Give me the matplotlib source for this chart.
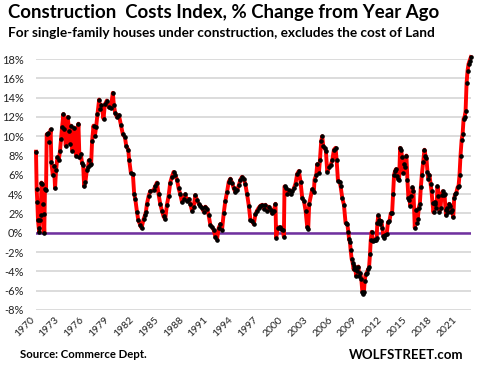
import numpy as np
import matplotlib.pyplot as plt

# Construction costs index, % change from year ago
years = np.array([
    1970.00, 1970.08, 1970.16, 1970.24, 1970.33, 1970.41, 1970.50, 1970.58,
    1970.66, 1970.75, 1970.83, 1970.91, 1971.00, 1971.08, 1971.21, 1971.29,
    1971.49, 1971.57, 1971.77, 1971.85, 1972.02, 1972.18, 1972.30, 1972.42,
    1972.58, 1972.74, 1972.90, 1973.02, 1973.15, 1973.31, 1973.43, 1973.59,
    1973.83, 1973.99, 1974.11, 1974.23, 1974.40, 1974.60, 1974.84, 1975.12,
    1975.24, 1975.40, 1975.56, 1975.69, 1975.81, 1975.97, 1976.13, 1976.29,
    1976.37, 1976.53, 1976.65, 1976.77, 1976.94, 1977.10, 1977.26, 1977.42,
    1977.62, 1977.74, 1977.90, 1978.15, 1978.31, 1978.55, 1978.79, 1979.03,
    1979.27, 1979.40, 1979.56, 1979.76, 1980.00, 1980.24, 1980.48, 1980.73,
    1980.89, 1981.13, 1981.25, 1981.45, 1981.69, 1981.85, 1981.98, 1982.18,
    1982.34, 1982.58, 1982.74, 1982.98, 1983.15, 1983.27, 1983.39, 1983.59,
    1983.79, 1984.18, 1984.38, 1984.59, 1984.79, 1984.99, 1985.19, 1985.39,
    1985.59, 1985.80, 1986.00, 1986.20, 1986.40, 1986.60, 1986.80, 1987.01,
    1987.21, 1987.41, 1987.61, 1987.81, 1988.01, 1988.22, 1988.42, 1988.62,
    1988.82, 1989.02, 1989.22, 1989.43, 1989.63, 1989.83, 1990.03, 1990.23,
    1990.43, 1990.63, 1990.84, 1991.04, 1991.24, 1991.44, 1991.64, 1991.84,
    1992.05, 1992.25, 1992.45, 1992.65, 1992.85, 1993.05, 1993.26, 1993.46,
    1993.66, 1993.86, 1994.06, 1994.26, 1994.47, 1994.67, 1994.87, 1995.07,
    1995.27, 1995.47, 1995.68, 1995.88, 1996.08, 1996.28, 1996.48, 1996.68,
    1996.89, 1997.09, 1997.29, 1997.49, 1997.69, 1997.89, 1998.10, 1998.30,
    1998.50, 1998.70, 1998.90, 1998.98, 1999.18, 1999.39, 1999.59, 1999.79,
    1999.91, 1999.99, 2000.11, 2000.31, 2000.51, 2000.72, 2000.92, 2001.12,
    2001.32, 2001.52, 2001.72, 2001.92, 2002.13, 2002.33, 2002.53, 2002.73,
    2002.85, 2002.97, 2003.33, 2003.53, 2003.61, 2003.82, 2003.94, 2004.14,
    2004.26, 2004.42, 2004.54, 2004.66, 2004.82, 2004.98, 2005.15, 2005.35,
    2005.55, 2005.75, 2005.95, 2006.15, 2006.28, 2006.44, 2006.64, 2006.76,
    2006.96, 2007.16, 2007.36, 2007.57, 2007.69, 2007.77, 2007.89, 2007.97,
    2008.09, 2008.21, 2008.33, 2008.41, 2008.53, 2008.65, 2008.78, 2008.90,
    2009.02, 2009.14, 2009.26, 2009.38, 2009.50, 2009.58, 2009.66, 2009.78,
    2009.90, 2010.07, 2010.19, 2010.31, 2010.39, 2010.51, 2010.63, 2010.79,
    2010.91, 2011.03, 2011.11, 2011.19, 2011.32, 2011.44, 2011.56, 2011.68,
    2011.80, 2011.92, 2012.04, 2012.16, 2012.32, 2012.48, 2012.65, 2012.81,
    2012.97, 2013.09, 2013.21, 2013.33, 2013.45, 2013.57, 2013.69, 2013.82,
    2013.94, 2014.06, 2014.18, 2014.30, 2014.42, 2014.54, 2014.70, 2014.82,
    2014.94, 2015.07, 2015.19, 2015.31, 2015.43, 2015.55, 2015.71, 2015.83,
    2015.95, 2016.07, 2016.19, 2016.32, 2016.44, 2016.56, 2016.72, 2016.88,
    2017.00, 2017.12, 2017.24, 2017.36, 2017.48, 2017.61, 2017.73, 2017.85,
    2017.97, 2018.09, 2018.21, 2018.33, 2018.45, 2018.57, 2018.69, 2018.82,
    2018.94, 2019.06, 2019.18, 2019.30, 2019.42, 2019.50, 2019.62, 2019.74,
    2019.86, 2019.99, 2020.11, 2020.23, 2020.35, 2020.47, 2020.59, 2020.71,
    2020.87, 2020.99, 2021.11, 2021.23, 2021.36, 2021.48, 2021.60, 2021.72,
    2021.84, 2021.96, 2022.08, 2022.20, 2022.32, 2022.48,
])
pct = np.array([
    8.4, 4.5, 3.2, 1.3, 0.5, 0.1, 1.3, 1.8,
    5.2, 5.1, 3.0, 1.9, 0.0, 4.5, 4.4, 10.2,
    10.3, 9.4, 10.7, 7.3, 6.0, 6.9, 4.6, 6.5,
    7.8, 7.5, 8.5, 9.7, 11.0, 12.3, 10.8, 9.0,
    12.0, 10.5, 9.2, 11.1, 8.5, 10.9, 8.0, 11.3,
    7.8, 8.2, 7.2, 7.0, 4.8, 5.3, 6.5, 6.8,
    7.5, 7.0, 7.1, 9.5, 11.1, 10.0, 11.0, 12.3,
    13.8, 12.8, 13.2, 11.8, 13.3, 13.7, 13.0, 12.9,
    14.5, 13.2, 12.4, 12.0, 12.2, 11.2, 10.2, 9.9,
    9.0, 8.6, 7.5, 6.2, 6.1, 4.0, 3.5, 2.2,
    1.3, 0.8, 0.5, 1.4, 1.8, 2.2, 3.0, 3.8,
    4.3, 4.4, 4.8, 5.2, 4.0, 3.0, 2.3, 1.7,
    1.4, 2.9, 3.8, 5.2, 5.8, 6.3, 6.0, 5.5,
    4.6, 4.0, 3.2, 3.5, 4.0, 3.3, 3.5, 3.0,
    2.3, 2.7, 3.9, 3.4, 3.0, 2.8, 2.6, 2.2,
    2.7, 2.5, 1.8, 0.8, 0.6, 0.3, -0.4, -0.7,
    0.5, 0.9, 0.3, 2.0, 3.3, 4.2, 5.3, 5.6,
    5.2, 4.6, 4.2, 4.4, 4.9, 5.5, 5.8, 5.6,
    5.0, 4.0, 2.8, 1.3, 1.2, 0.9, 1.9, 2.3,
    2.6, 2.8, 2.9, 2.5, 2.9, 2.3, 2.7, 2.4,
    2.0, 2.3, 3.0, -0.5, 0.5, 0.6, 0.4, 0.3,
    -0.4, 4.8, 4.6, 4.0, 4.4, 4.0, 4.3, 4.6,
    5.1, 6.1, 6.4, 5.3, 3.6, 3.3, 2.3, 0.6,
    0.4, 3.0, 4.5, 4.2, 5.5, 6.0, 7.1, 6.2,
    7.5, 9.5, 10.0, 9.0, 8.8, 8.5, 6.3, 6.8,
    7.0, 7.5, 8.6, 8.8, 7.5, 5.4, 5.3, 4.8,
    3.6, 2.9, 1.0, 0.9, 0.1, -0.6, -1.0, -1.8,
    -2.7, -3.1, -3.8, -3.4, -3.8, -4.5, -4.0, -3.5,
    -4.5, -4.2, -4.8, -6.1, -6.3, -6.1, -5.0, -4.3,
    -4.2, -3.8, -3.6, -2.2, -0.8, 0.1, -0.9, -0.8,
    -0.7, -0.8, -0.5, 1.0, 1.8, 1.3, 0.9, 1.2,
    0.5, -0.3, -0.5, -0.2, -0.1, 1.1, 1.2, 2.0,
    2.0, 4.0, 6.0, 6.4, 6.6, 5.9, 5.6, 5.5,
    8.8, 8.6, 7.8, 6.2, 7.1, 6.8, 8.0, 5.5,
    3.6, 3.4, 2.8, 3.8, 4.7, 4.3, 0.5, 2.4,
    1.0, 1.4, 2.6, 3.0, 4.7, 6.0, 7.3, 8.6,
    8.0, 7.7, 6.3, 5.6, 6.0, 5.1, 4.3, 3.1,
    2.1, 3.0, 3.2, 2.6, 4.8, 3.8, 2.2, 2.6,
    3.9, 4.3, 3.9, 4.0, 2.4, 1.8, 2.6, 2.1,
    3.0, 2.8, 2.1, 2.4, 1.6, 3.6, 4.0, 4.1,
    4.7, 4.8, 6.0, 8.0, 9.6, 10.2, 11.8, 12.0,
    12.6, 15.5, 16.8, 17.5, 17.8, 18.2,
])

tick_years = list(range(1970, 2022, 3))
y_ticks = list(range(-8, 19, 2))

font = 'Lato'

fig = plt.figure(figsize=(4.8, 3.69), dpi=100)
ax = fig.add_axes([0.075, 0.16, 0.906, 0.68])

ax.set_ylim(-8, 18)
ax.set_xlim(years[0], years[-1])
ax.set_yticks(y_ticks)
ax.set_yticklabels(['{}%'.format(v) for v in y_ticks], fontsize=8, family=font, color='#222222')
ax.set_xticks(tick_years)
ax.set_xticklabels([str(y) for y in tick_years], rotation=45, ha='right',
                   fontsize=7.5, family=font, color='#222222')
ax.tick_params(axis='both', length=0)
ax.tick_params(axis='y', pad=9)
ax.tick_params(axis='x', pad=4)

for spine in ax.spines.values():
    spine.set_visible(False)

ax.grid(axis='y', color='#d9d9d9', lw=1.3)
ax.set_axisbelow(True)

# Zero line
ax.axhline(0, color='#7030a0', lw=1.8, zorder=2)

ax.plot(years, pct, color='#ff0000', lw=2.8, marker='o', ms=2.3,
        mfc='black', mec='black', zorder=3, clip_on=False)

# Titles and footer
fig.text(0.017, 0.965, 'Construction  Costs Index, % Change from Year Ago',
         fontsize=13.4, fontweight='bold', family=font, va='center', ha='left')
fig.text(0.017, 0.91, 'For single-family houses under construction, excludes the cost of Land',
         fontsize=9.8, fontweight='bold', family=font, va='center', ha='left')
fig.text(0.042, 0.038, 'Source: Commerce Dept.', fontsize=8.2, fontweight='bold',
         family=font, va='center', ha='left')
fig.text(0.965, 0.038, 'WOLFSTREET.com', fontsize=9.5, fontweight='bold',
         family=font, va='center', ha='right')

fig.savefig('out.png', dpi=100)
